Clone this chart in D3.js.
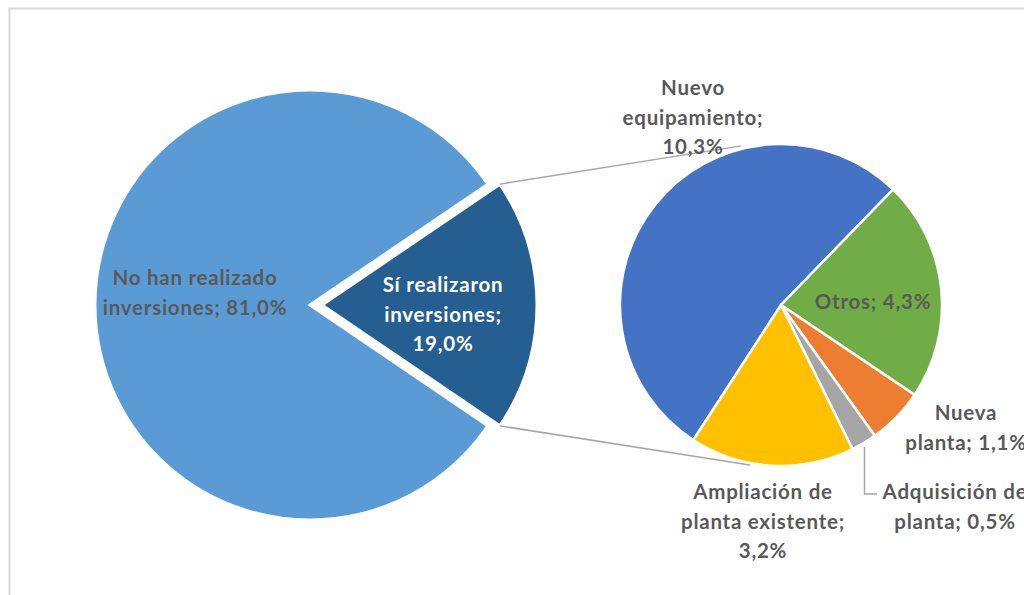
<!DOCTYPE html>
<html>
<head>
<meta charset="utf-8">
<script src="https://cdn.jsdelivr.net/npm/d3@7"></script>
<style>
  body { margin: 0; background: #fff; }
  svg { display: block; }
  text { font-family: Lato, "Open Sans", sans-serif; font-weight: bold; font-size: 20.5px; letter-spacing: 0.75px; fill: #595959; }
</style>
</head>
<body>
<script>
// main pie
var mainLabels = ["Sí realizaron inversiones", "No han realizado inversiones"];
var mainValues = [19.0, 81.0];
var mainColors = ["#255e91", "#5b9bd5"];

// breakdown of "Sí realizaron"
var subLabels = ["Nuevo equipamiento", "Otros", "Nueva planta", "Adquisición de planta", "Ampliación de planta existente"];
var subValues = [10.3, 4.3, 1.1, 0.5, 3.2];
var subColors = ["#4472c4", "#70ad47", "#ed7d31", "#a5a5a5", "#ffc000"];

var fmt = function(v) { return d3.format(".1f")(v).replace(".", ",") + "%"; };

var width = 1024, height = 595;
var svg = d3.select("body").append("svg")
    .attr("width", width)
    .attr("height", height);

// chart frame
svg.append("rect")
    .attr("x", 9.5).attr("y", 8.5)
    .attr("width", 1200).attr("height", 800)
    .attr("fill", "none")
    .attr("stroke", "#d9d9d9")
    .attr("stroke-width", 2);

var c1 = {x: 310, y: 305}, r1 = 215, explode = 12;
var c2 = {x: 781, y: 305}, r2 = 161;

// main pie: the small slice faces right
var siShare = mainValues[0] / d3.sum(mainValues);
var pie1 = d3.pie().sort(null).value(function(d) { return d; })
    .startAngle(Math.PI / 2 - Math.PI * siShare)
    .endAngle(Math.PI / 2 - Math.PI * siShare + 2 * Math.PI);
var arc1 = d3.arc().innerRadius(0).outerRadius(r1);
var arcs1 = pie1(mainValues);

var g1 = svg.append("g").attr("transform", "translate(" + c1.x + "," + c1.y + ")");
g1.selectAll("path")
  .data(arcs1)
  .enter().append("path")
    .attr("d", arc1)
    .attr("fill", function(d, i) { return mainColors[i]; })
    .attr("stroke", "#fff")
    .attr("stroke-width", 3)
    .attr("stroke-linejoin", "miter")
    .attr("transform", function(d, i) {
      if (i !== 0) return null;
      var a = (d.startAngle + d.endAngle) / 2;
      return "translate(" + (explode * Math.sin(a)) + "," + (-explode * Math.cos(a)) + ")";
    });

// second pie
var pie2 = d3.pie().sort(null).value(function(d) { return d; })
    .startAngle(-147 * Math.PI / 180)
    .endAngle(-147 * Math.PI / 180 + 2 * Math.PI);
var arc2 = d3.arc().innerRadius(0).outerRadius(r2);
var arcs2 = pie2(subValues);

// connector lines
var si = arcs1[0];
var ex = {x: c1.x + explode, y: c1.y};
var p1 = [ex.x + r1 * Math.sin(si.startAngle), ex.y - r1 * Math.cos(si.startAngle)];
var p2 = [ex.x + r1 * Math.sin(si.endAngle), ex.y - r1 * Math.cos(si.endAngle)];
var t1a = -14 * Math.PI / 180, t2a = 191 * Math.PI / 180;
var q1 = [c2.x + (r2 + 3) * Math.sin(t1a), c2.y - (r2 + 3) * Math.cos(t1a)];
var q2 = [c2.x + (r2 + 2) * Math.sin(t2a), c2.y - (r2 + 2) * Math.cos(t2a)];
svg.append("path")
    .attr("d", d3.line()([p1, q1]))
    .attr("stroke", "#a6a6a6").attr("stroke-width", 1.5).attr("fill", "none");
svg.append("path")
    .attr("d", d3.line()([p2, q2]))
    .attr("stroke", "#a6a6a6").attr("stroke-width", 1.5).attr("fill", "none");

var g2 = svg.append("g").attr("transform", "translate(" + c2.x + "," + c2.y + ")");
g2.selectAll("path")
  .data(arcs2)
  .enter().append("path")
    .attr("d", arc2)
    .attr("fill", function(d, i) { return subColors[i]; })
    .attr("stroke", "#fff")
    .attr("stroke-width", 2.5);

// leader line for "Adquisición de planta"
svg.append("path")
    .attr("d", d3.line()([[864.5, 447], [864.5, 494], [877, 494]]))
    .attr("stroke", "#a6a6a6").attr("stroke-width", 1.5).attr("fill", "none");

// label layout (line centre positions)
function label(lines, x, y, color) {
  var t = svg.append("text")
      .attr("text-anchor", "middle")
      .style("fill", color || "#595959");
  lines.forEach(function(s, i) {
    t.append("tspan").attr("x", x).attr("y", y + i * 29.5).attr("dy", "0.35em").text(s);
  });
}

label(["No han realizado", "inversiones; " + fmt(mainValues[1])], 195, 278);
label(["Sí realizaron", "inversiones;", fmt(mainValues[0])], 443, 285, "#ffffff");
label(["Nuevo", "equipamiento;", fmt(subValues[0])], 693, 88);
label(["Otros; " + fmt(subValues[1])], 873, 302);
label(["Nueva", "planta; " + fmt(subValues[2])], 966, 413);
label(["Adquisición de", "planta; " + fmt(subValues[3])], 955, 492);
label(["Ampliación de", "planta existente;", fmt(subValues[4])], 763, 492);
</script>
</body>
</html>
